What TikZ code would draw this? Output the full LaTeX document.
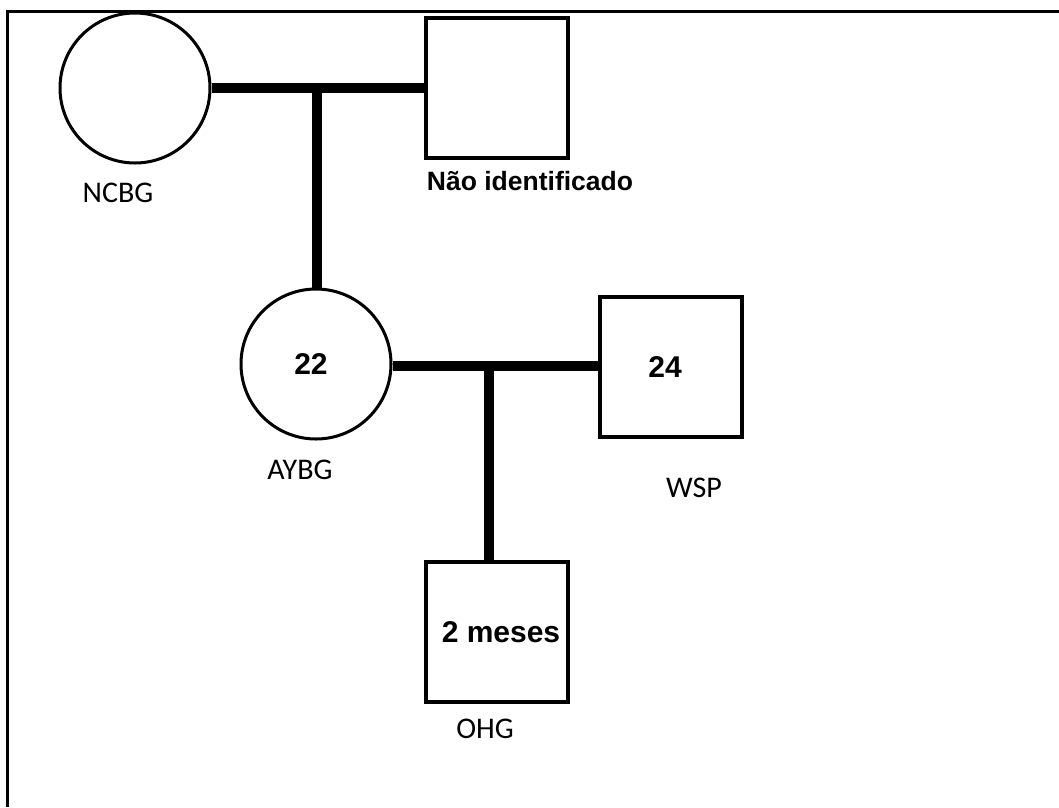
\documentclass[tikz,border=0pt]{standalone}
\usepackage{fontspec}
\setmainfont{Liberation Sans}
\newfontfamily\labelfont{Carlito}
\usepackage{tikz}

\begin{document}
\begin{tikzpicture}[x=1pt,y=-1pt,
        female/.style={circle,draw,line width=3pt,minimum size=150pt,inner sep=0pt,
                       font=\fontsize{30}{33}\selectfont\bfseries},
        male/.style={rectangle,draw,line width=3.5pt,minimum width=142pt,minimum height=140pt,
                     inner sep=0pt,font=\fontsize{30}{33}\selectfont\bfseries},
        tag/.style={font=\fontsize{30}{33}\selectfont\labelfont,inner sep=0pt},
        bond/.style={line width=10pt}]
            \useasboundingbox (0,0) rectangle (1059,807);
            %
            \draw[line width=3pt] (7,807) -- (7,11) -- (1059,11);
            %
            \node[female] (ncbg) at (135,88) {};
            \node[male] (nid) at (497,88) {};
            \node[female] (aybg) at (316,364) {\hspace*{-10pt}22};
            \node[male] (wsp) at (671,367) {\hspace*{-12pt}24};
            \node[male] (ohg) at (497,632) {\hspace*{8pt}2 meses};
            %
            \node[tag] (ncbgname) at (118,193) {NCBG};
            \node[font=\fontsize{26.5}{29}\selectfont\bfseries,inner sep=0pt] (nidname) at (530,181) {Não identificado};
            \node[tag] (aybgname) at (300,470) {AYBG};
            \node[tag] (wspname) at (694,488) {WSP};
            \node[tag] (ohgname) at (485,729) {OHG};
            %
            \coordinate (m1) at (317,88);
            \coordinate (m2) at (489,366);
            \draw[bond] (ncbg.east) -- (nid.west);
            \draw[bond] (m1) -- (m1 |- aybg.north);
            \draw[bond] (aybg.east |- m2) -- (wsp.west |- m2);
            \draw[bond] (m2) -- (m2 |- ohg.north);
        \end{tikzpicture}
\end{document}
